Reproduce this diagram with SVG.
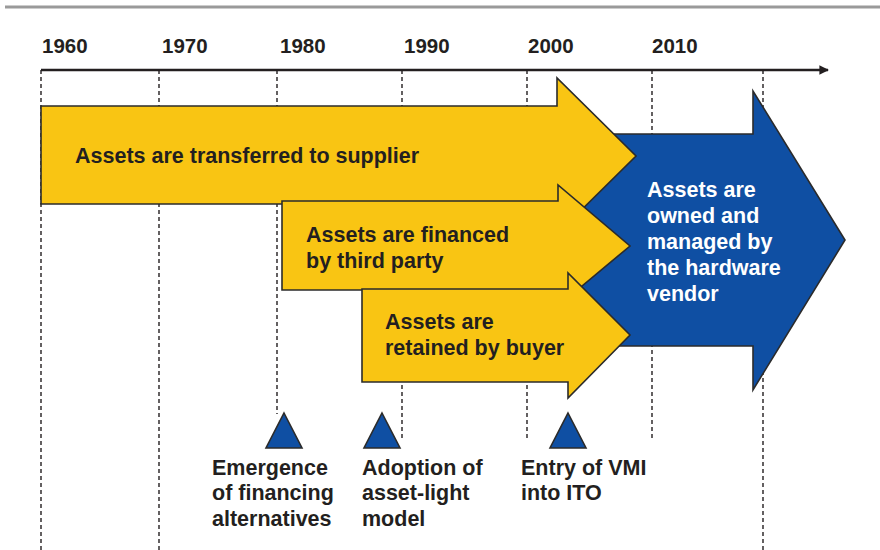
<svg xmlns="http://www.w3.org/2000/svg" width="880" height="550" viewBox="0 0 880 550">
  <style>
    .t { font-family: "Liberation Sans", Arial, sans-serif; font-weight: bold; font-size: 21.5px; fill: #231f20; }
    .yr { font-size: 20.5px; }
    .w { fill: #ffffff; }
    .grid { stroke: #231f20; stroke-width: 1.4; stroke-dasharray: 4 3; fill: none; }
    .yel { fill: #f9c513; stroke: #2b2b2b; stroke-width: 1.6; stroke-linejoin: miter; }
    .blu { fill: #0f4fa3; stroke: #2b2b2b; stroke-width: 1.6; }
  </style>
  <defs>
    <marker id="axisHead" viewBox="0 0 10 10" refX="9" refY="5" markerWidth="4" markerHeight="4" orient="auto">
      <path d="M0,0 L10,5 L0,10 z" fill="#231f20"/>
    </marker>
  </defs>

  <rect width="880" height="550" fill="#ffffff"/>

  <!-- header rule -->
  <line x1="5" y1="7" x2="880" y2="7" stroke="#9a9a9a" stroke-width="3"/>

  <!-- decade grid -->
  <g id="grid">
    <line class="grid" x1="41" y1="70" x2="41" y2="550"/>
    <line class="grid" x1="159" y1="70" x2="159" y2="550"/>
    <line class="grid" x1="277" y1="70" x2="277" y2="414"/>
    <line class="grid" x1="402" y1="70" x2="402" y2="440"/>
    <line class="grid" x1="527" y1="70" x2="527" y2="440"/>
    <line class="grid" x1="652" y1="70" x2="652" y2="440"/>
    <line class="grid" x1="763" y1="70" x2="763" y2="550"/>
  </g>

  <!-- time axis -->
  <g id="axis">
    <line x1="41" y1="70" x2="828" y2="70" stroke="#231f20" stroke-width="2.4" marker-end="url(#axisHead)"/>
    <text class="t yr" x="42" y="53">1960</text>
    <text class="t yr" x="162" y="53">1970</text>
    <text class="t yr" x="280" y="53">1980</text>
    <text class="t yr" x="404" y="53">1990</text>
    <text class="t yr" x="528" y="53">2000</text>
    <text class="t yr" x="652" y="53">2010</text>
  </g>

  <!-- phase arrows -->
  <g id="vendor-owned">
    <polygon class="blu" points="560,134 753,134 753,91 845,240 753,390 753,346 560,346"/>
    <text class="t w" x="647" y="197">Assets are</text>
    <text class="t w" x="647" y="223">owned and</text>
    <text class="t w" x="647" y="249">managed by</text>
    <text class="t w" x="647" y="275">the hardware</text>
    <text class="t w" x="647" y="301">vendor</text>
  </g>

  <g id="transferred">
    <polygon class="yel" points="41,106 557,106 557,78 636,156 557,234 557,204 41,204"/>
    <text class="t" x="75" y="163">Assets are transferred to supplier</text>
  </g>

  <g id="financed">
    <polygon class="yel" points="282,201 558,201 558,185 630,246 558,306 558,290 282,290"/>
    <text class="t" x="306" y="242">Assets are financed</text>
    <text class="t" x="306" y="268">by third party</text>
  </g>

  <g id="retained">
    <polygon class="yel" points="362,289 568,289 568,273 630,335 568,398 568,382 362,382"/>
    <text class="t" x="385" y="329">Assets are</text>
    <text class="t" x="385" y="355">retained by buyer</text>
  </g>

  <!-- milestones -->
  <g id="financing-alternatives">
    <polygon class="blu" points="284,413 302,448 266,448"/>
    <text class="t" x="212" y="475">Emergence</text>
    <text class="t" x="212" y="500">of financing</text>
    <text class="t" x="212" y="526">alternatives</text>
  </g>

  <g id="asset-light">
    <polygon class="blu" points="382,413 400,448 364,448"/>
    <text class="t" x="362" y="475">Adoption of</text>
    <text class="t" x="362" y="500">asset-light</text>
    <text class="t" x="362" y="526">model</text>
  </g>

  <g id="vmi-entry">
    <polygon class="blu" points="568,413 586,448 550,448"/>
    <text class="t" x="521" y="475">Entry of VMI</text>
    <text class="t" x="521" y="500">into ITO</text>
  </g>
</svg>
